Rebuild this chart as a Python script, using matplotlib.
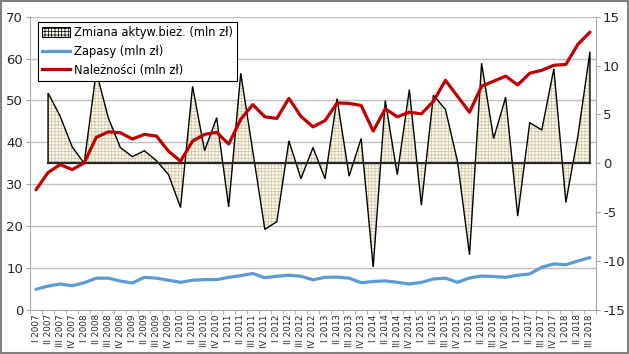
import numpy as np
import matplotlib
matplotlib.use("Agg")
import matplotlib.pyplot as plt
from matplotlib.patches import Rectangle, Patch
from matplotlib.lines import Line2D

plt.rcParams["font.family"] = ["DejaVu Sans"]
plt.rcParams["axes.unicode_minus"] = False
plt.rcParams["hatch.linewidth"] = 0.5
plt.rcParams["hatch.color"] = "#cbc3a6"

# kwartały I 2007 - III 2018
roman = ["I", "II", "III", "IV"]
quarters = [f"{roman[q]} {y}" for y in range(2007, 2019) for q in range(4)][:47]

# należności i zapasy (oś lewa)
naleznosci = [28.7, 32.8, 34.7, 33.5, 35.1, 41.2, 42.5, 42.3, 40.8, 41.9,
              41.5, 37.9, 35.5, 40.3, 41.9, 42.4, 39.6, 45.5, 49.0, 46.1,
              45.7, 50.5, 46.2, 43.7, 45.2, 49.4, 49.3, 48.8, 42.7, 48.0,
              46.1, 47.2, 46.8, 49.8, 54.8, 51.0, 47.2, 53.4, 54.6, 55.8,
              53.7, 56.5, 57.2, 58.4, 58.6, 63.4, 66.3]
zapasy = [4.95, 5.7, 6.2, 5.8, 6.5, 7.6, 7.6, 6.9, 6.45, 7.8,
          7.6, 7.1, 6.6, 7.1, 7.25, 7.25, 7.8, 8.2, 8.7, 7.7,
          8.05, 8.3, 8.05, 7.2, 7.8, 7.85, 7.6, 6.5, 6.8, 6.95,
          6.6, 6.2, 6.6, 7.4, 7.6, 6.6, 7.65, 8.1, 8.0, 7.8,
          8.3, 8.6, 10.2, 11.0, 10.8, 11.7, 12.5]
# zmiana aktywów bieżących (oś prawa), od II 2007
zmiana = [7.19, 4.83, 1.69, 0.0, 9.4, 4.66, 1.62, 0.68, 1.29, 0.27,
          -1.15, -4.52, 7.87, 1.29, 4.66, -4.46, 9.22, 1.24, -6.75, -5.97,
          2.30, -1.58, 1.62, -1.58, 6.62, -1.31, 2.54, -10.6, 6.42, -1.15,
          7.53, -4.29, 6.96, 5.51, 0.2, -9.35, 10.23, 2.54, 6.76, -5.4,
          4.16, 3.41, 9.66, -4.0, 2.8, 11.42]

x = np.arange(len(quarters))
xz = x[1:]

fig = plt.figure(figsize=(6.29, 3.54), dpi=100)
ax = fig.add_axes([0.0477, 0.1243, 0.8998, 0.8287])
ax2 = ax.twinx()
ax.set_zorder(ax2.get_zorder() + 1)
ax.patch.set_visible(False)

# obszar zmian na osi prawej
poly_x = np.concatenate([[xz[0]], xz, [xz[-1]]])
poly_y = np.concatenate([[0], zmiana, [0]])
ax2.fill(poly_x, poly_y, facecolor="#fbf8ea", edgecolor="none", zorder=2)
ax2.fill(poly_x, poly_y, facecolor="none", edgecolor="#cbc3a6", hatch="+++++",
         linewidth=0, zorder=2)
ax2.fill(poly_x, poly_y, facecolor="none", edgecolor="black", linewidth=1.0, zorder=3)
ax2.plot([xz[0], xz[-1]], [0, 0], color="#262626", lw=1.6, zorder=3)

ax.plot(x, zapasy, color="#5b9bd5", lw=2.3, solid_capstyle="round", zorder=5)
ax.plot(x, naleznosci, color="#c00000", lw=2.3, solid_capstyle="round", zorder=5)

ax.set_xlim(-0.5, len(quarters) - 0.5)
ax.set_ylim(0, 70)
ax2.set_ylim(-15, 15)
ax.set_yticks(np.arange(0, 71, 10))
ax2.set_yticks(np.arange(-15, 16, 5))

# siatka według osi lewej
for v in range(10, 71, 10):
    ax2.axhline(-15 + v * 30 / 70, color="#bfbfbf", lw=1.0, zorder=1)

ax.set_xticks(x)
ax.set_xticklabels(quarters, rotation=90, fontsize=6.3, color="#262626")
ax.set_xticks(np.arange(-0.5, len(quarters), 1), minor=True)
ax.tick_params(axis="x", which="major", length=0, pad=3)
ax.tick_params(axis="x", which="minor", length=3, color="#a6a6a6")
ax.tick_params(axis="y", length=3, color="#a6a6a6", labelsize=9.5,
               labelcolor="#262626", pad=2)
ax2.tick_params(axis="y", length=3, color="#a6a6a6", labelsize=9.5,
                labelcolor="#262626", pad=2)

for a in (ax, ax2):
    for s in a.spines.values():
        s.set_visible(False)
ax.spines["left"].set_visible(True)
ax.spines["left"].set_color("#a6a6a6")
ax.spines["bottom"].set_visible(True)
ax.spines["bottom"].set_color("#a6a6a6")
ax2.spines["right"].set_visible(True)
ax2.spines["right"].set_color("#a6a6a6")

handles = [
    Patch(facecolor="#fbf8ea", edgecolor="black", hatch="+++++", linewidth=0.8),
    Line2D([], [], color="#5b9bd5", lw=2.3),
    Line2D([], [], color="#c00000", lw=2.3),
]
labels = ["Zmiana aktyw.bież. (mln zł)", "Zapasy (mln zł)", "Należności (mln zł)"]
leg = ax.legend(handles, labels, loc="upper left", bbox_to_anchor=(0.014, 0.981),
                borderaxespad=0, fancybox=False, framealpha=1, fontsize=8.3,
                handlelength=2.4, handleheight=0.9, labelspacing=0.5,
                handletextpad=0.4, borderpad=0.35)
leg.get_frame().set_edgecolor("black")
leg.get_frame().set_linewidth(0.8)
leg.set_zorder(10)

fig.patches.append(Rectangle((0.002, 0.003), 0.996, 0.994, transform=fig.transFigure,
                             fill=False, edgecolor="#808080", lw=1.5))

fig.savefig("out.png", dpi=100)
